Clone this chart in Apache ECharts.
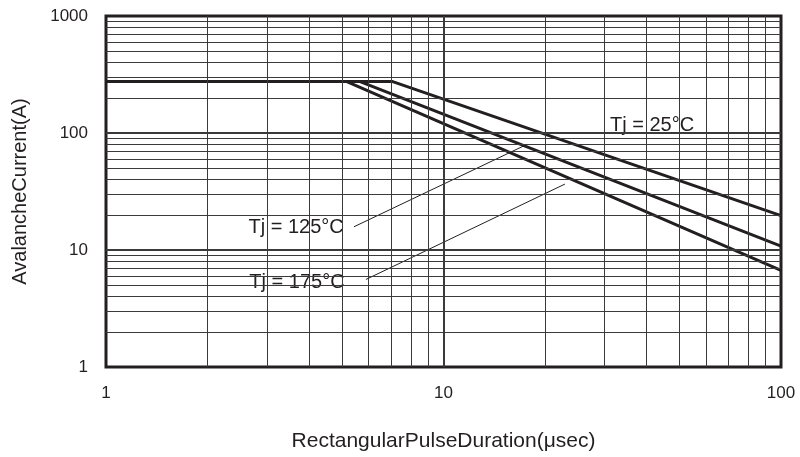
<!DOCTYPE html>
<html>
<head>
<meta charset="utf-8">
<script src="https://cdn.jsdelivr.net/npm/echarts@6/dist/echarts.min.js"></script>
<style>
  html, body { margin: 0; padding: 0; background: #fff; }
  #chart { width: 800px; height: 457px; }
</style>
</head>
<body>
<div id="chart"></div>
<script>
// curves: [pulse duration (us), avalanche current (A)]
const tj25 = [[1, 275], [7.07, 275], [100, 19.7]];
const tj125 = [[1, 275], [5.66, 275], [100, 10.8]];
const tj175 = [[1, 275], [5.17, 275], [100, 6.7]];

// leader lines from the labels to the curves
const leader125 = [[5.43, 15.8], [17.2, 77]];
const leader175 = [[5.89, 5.6], [22.9, 36.6]];

// annotation labels [x, y, text]
const notes = [
  [41.5, 116, 'Tj = 25°C'],
  [3.66, 15.5, 'Tj = 125°C'],
  [3.68, 5.28, 'Tj = 175°C'],
];

// grid lines
const xGrid = [2, 3, 4, 5, 6, 7, 8, 9, 10, 20, 30, 40, 50, 60, 70, 80, 90];
const yGrid = [2, 3, 4, 5, 6, 7, 8, 9, 10, 20, 30, 40, 50, 60, 70, 80, 90,
  100, 200, 300, 400, 500, 600, 700, 800, 900];

const ink = '#231f20';
const font = '"Liberation Sans", Arial, sans-serif';

const chart = echarts.init(document.getElementById('chart'));

const gridLines = [];
xGrid.forEach((v) => {
  gridLines.push({ xAxis: v, lineStyle: { width: v === 10 ? 2 : 1 } });
});
yGrid.forEach((v) => {
  gridLines.push({ yAxis: v, lineStyle: { width: (v === 10 || v === 100) ? 2 : 1 } });
});

const curve = (name, data) => ({
  name: name,
  type: 'line',
  data: data,
  z: 3,
  showSymbol: false,
  silent: true,
  lineStyle: { color: ink, width: 3 },
});

const leader = (data) => ({
  type: 'line',
  data: data,
  z: 2,
  showSymbol: false,
  silent: true,
  lineStyle: { color: ink, width: 1 },
});

const option = {
  animation: false,
  grid: {
    left: 106,
    right: 19,
    top: 16,
    bottom: 88,
    show: true,
    borderColor: ink,
    borderWidth: 3,
  },
  xAxis: {
    type: 'log',
    logBase: 10,
    min: 1,
    max: 100,
    name: 'RectangularPulseDuration(μsec)',
    nameLocation: 'middle',
    nameGap: 64,
    nameTextStyle: { color: ink, fontSize: 21, fontFamily: font },
    axisLine: { show: false },
    axisTick: { show: false },
    splitLine: { show: false },
    axisLabel: {
      color: ink, fontSize: 17, fontFamily: font, margin: 18,
      formatter: (v) => String(v),
    },
  },
  yAxis: {
    type: 'log',
    logBase: 10,
    min: 1,
    max: 1000,
    name: 'AvalancheCurrent(A)',
    nameLocation: 'middle',
    nameGap: 76,
    nameTextStyle: { color: ink, fontSize: 20, fontFamily: font },
    axisLine: { show: false },
    axisTick: { show: false },
    splitLine: { show: false },
    axisLabel: {
      color: ink, fontSize: 17, fontFamily: font, margin: 18,
      formatter: (v) => String(v),
    },
  },
  series: [
    {
      type: 'line',
      data: [],
      z: 1,
      silent: true,
      markLine: {
        silent: true,
        symbol: 'none',
        animation: false,
        label: { show: false },
        lineStyle: { color: '#3a3a3a', type: 'solid', width: 1 },
        data: gridLines,
      },
    },
    curve('25', tj25),
    curve('125', tj125),
    curve('175', tj175),
    leader(leader125),
    leader(leader175),
    {
      type: 'scatter',
      z: 4,
      silent: true,
      symbolSize: 0,
      itemStyle: { opacity: 1 },
      data: notes.map((n) => ({ value: [n[0], n[1]], name: n[2] })),
      label: {
        show: true,
        position: 'inside',
        formatter: '{b}',
        color: ink,
        fontSize: 20,
        fontFamily: font,
        backgroundColor: '#fff',
        padding: [0, 2],
      },
    },
  ],
};

chart.setOption(option);
</script>
</body>
</html>
